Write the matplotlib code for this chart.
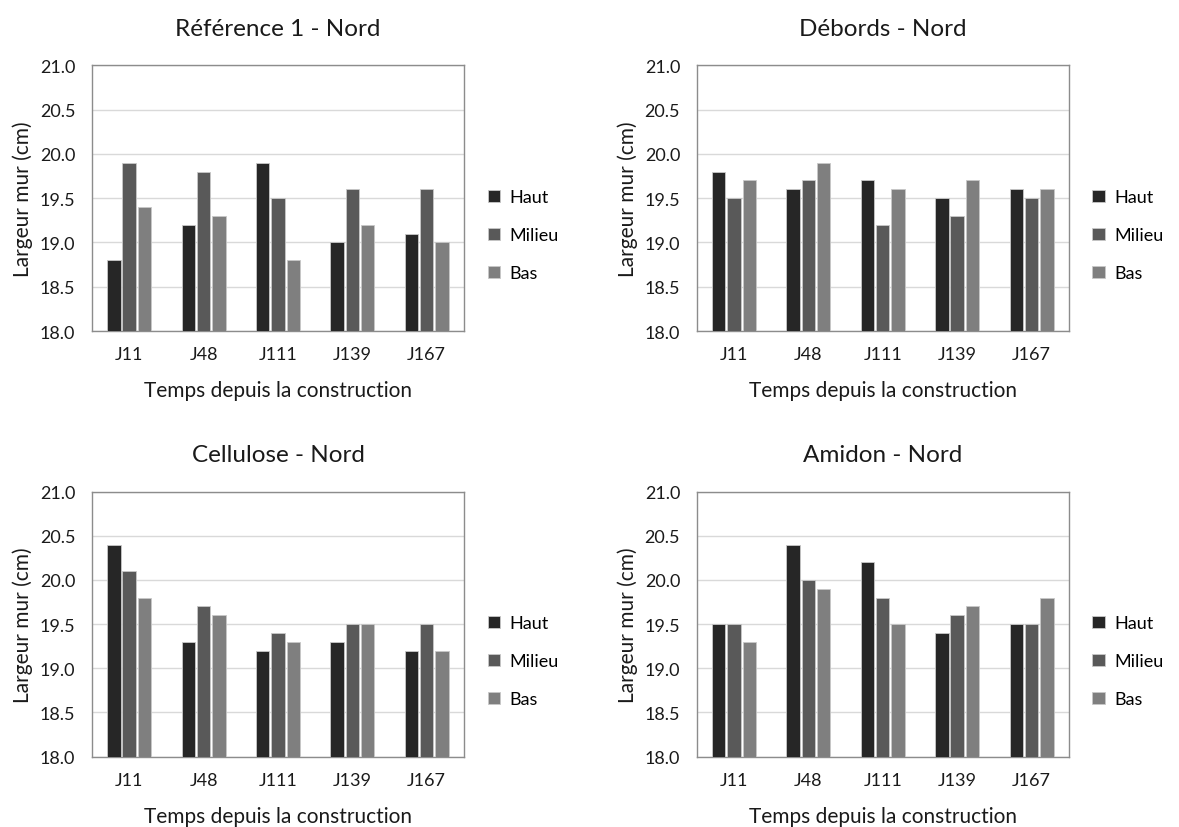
import numpy as np
import matplotlib
matplotlib.use("Agg")
import matplotlib.pyplot as plt
from matplotlib.ticker import FormatStrFormatter

plt.rcParams['font.family'] = ['Lato', 'DejaVu Sans']

jours = ["J11", "J48", "J111", "J139", "J167"]
series = ["Haut", "Milieu", "Bas"]
couleurs = ["#262626", "#595959", "#7f7f7f"]

ref_haut = [18.8, 19.2, 19.9, 19.0, 19.1]
ref_milieu = [19.9, 19.8, 19.5, 19.6, 19.6]
ref_bas = [19.4, 19.3, 18.8, 19.2, 19.0]

deb_haut = [19.8, 19.6, 19.7, 19.5, 19.6]
deb_milieu = [19.5, 19.7, 19.2, 19.3, 19.5]
deb_bas = [19.7, 19.9, 19.6, 19.7, 19.6]

cel_haut = [20.4, 19.3, 19.2, 19.3, 19.2]
cel_milieu = [20.1, 19.7, 19.4, 19.5, 19.5]
cel_bas = [19.8, 19.6, 19.3, 19.5, 19.2]

ami_haut = [19.5, 20.4, 20.2, 19.4, 19.5]
ami_milieu = [19.5, 20.0, 19.8, 19.6, 19.5]
ami_bas = [19.3, 19.9, 19.5, 19.7, 19.8]

panneaux = [
    ("Référence 1 - Nord", [ref_haut, ref_milieu, ref_bas]),
    ("Débords - Nord", [deb_haut, deb_milieu, deb_bas]),
    ("Cellulose - Nord", [cel_haut, cel_milieu, cel_bas]),
    ("Amidon - Nord", [ami_haut, ami_milieu, ami_bas]),
]

# positions des axes (en fraction de la figure)
positions = [
    [0.078, 0.599, 0.3155, 0.321],
    [0.591, 0.599, 0.3155, 0.321],
    [0.078, 0.085, 0.3155, 0.320],
    [0.591, 0.085, 0.3155, 0.320],
]

fig = plt.figure(figsize=(11.79, 8.28), dpi=100)

x = np.arange(len(jours))
largeur = 0.18
pas = 0.205
texte = "#1a1a1a"

for (titre, valeurs), pos in zip(panneaux, positions):
    ax = fig.add_axes(pos)
    for i, (nom, vals, c) in enumerate(zip(series, valeurs, couleurs)):
        ax.bar(x + (i - 1) * pas, np.array(vals) - 18.0, bottom=18.0, width=largeur,
               color=c, edgecolor="#c8c8c8", linewidth=0.6, label=nom, zorder=3)
    ax.set_ylim(18.0, 21.0)
    ax.set_xlim(-0.5, len(jours) - 0.5)
    ax.set_yticks(np.arange(18.0, 21.01, 0.5))
    ax.yaxis.set_major_formatter(FormatStrFormatter('%.1f'))
    ax.set_xticks(x)
    ax.set_xticklabels(jours)
    ax.tick_params(length=0, labelsize=13, colors=texte)
    ax.tick_params(axis="x", pad=11)
    ax.tick_params(axis="y", pad=12)
    ax.grid(axis="y", color="#d9d9d9", linewidth=1, zorder=0)
    for s in ax.spines.values():
        s.set_color("#8c8c8c")
        s.set_linewidth(1)
    ax.set_title(titre, fontsize=17.5, pad=22, color=texte)
    ax.set_xlabel("Temps depuis la construction", fontsize=15, labelpad=13, color=texte)
    ax.set_ylabel("Largeur mur (cm)", fontsize=15, labelpad=5, color=texte)
    ax.legend(loc="center left", bbox_to_anchor=(1.02, 0.36), frameon=False,
              fontsize=13, handlelength=0.7, handleheight=0.7, labelspacing=1.22,
              handletextpad=0.5)

fig.savefig("out.png", dpi=100, facecolor="white")
